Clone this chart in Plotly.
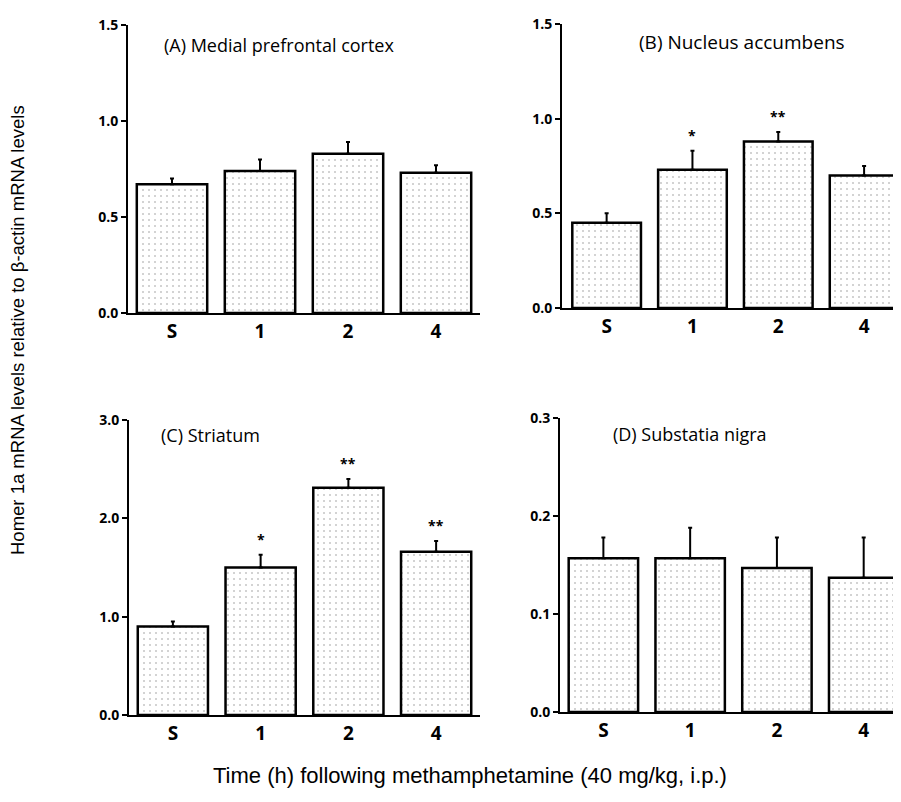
import plotly.graph_objects as go

# The page is shown with the browser's default 8px body margin, so pixel
# positions measured on the screenshot are shifted by OFF.
OFF = 8
SHOT_W, SHOT_H = 901, 802
W, H = SHOT_W - OFF, SHOT_H - OFF

categories = ["S", "1", "2", "4"]

titles = ["(A) Medial prefrontal cortex", "(B) Nucleus accumbens", "(C) Striatum", "(D) Substatia nigra"]

mpfc_mean = [0.67, 0.74, 0.83, 0.73]
mpfc_err = [0.03, 0.06, 0.06, 0.04]
mpfc_sig = ["", "", "", ""]

nac_mean = [0.45, 0.73, 0.88, 0.70]
nac_err = [0.05, 0.10, 0.05, 0.05]
nac_sig = ["", "*", "**", ""]

str_mean = [0.90, 1.50, 2.31, 1.66]
str_err = [0.05, 0.13, 0.09, 0.11]
str_sig = ["", "*", "**", "**"]

sn_mean = [0.157, 0.157, 0.147, 0.137]
sn_err = [0.021, 0.031, 0.031, 0.041]
sn_sig = ["", "", "", ""]

y_ticks_ab = [0.0, 0.5, 1.0, 1.5]
y_ticks_c = [0.0, 1.0, 2.0, 3.0]
y_ticks_d = [0.0, 0.1, 0.2, 0.3]

y_title = "Homer 1a mRNA levels relative to β-actin mRNA levels"
x_title = "Time (h) following methamphetamine (40 mg/kg, i.p.)"


def fx(px):
    return (px - OFF) / W


def fy(py):
    return (H - (py - OFF)) / H


panels = [
    dict(mean=mpfc_mean, err=mpfc_err, sig=mpfc_sig, ticks=y_ticks_ab, title=titles[0],
         px=(128, 480), py=(313, 25), xr=[-0.5, 3.5], tpos=(162, 45), tsize=18),
    dict(mean=nac_mean, err=nac_err, sig=nac_sig, ticks=y_ticks_ab, title=titles[1],
         px=(562, 901), py=(308, 24), xr=[-0.52, 3.43], tpos=(637, 42), tsize=19),
    dict(mean=str_mean, err=str_err, sig=str_sig, ticks=y_ticks_c, title=titles[2],
         px=(129, 480), py=(715, 420), xr=[-0.5, 3.5], tpos=(159, 435), tsize=18),
    dict(mean=sn_mean, err=sn_err, sig=sn_sig, ticks=y_ticks_d, title=titles[3],
         px=(560, 901), py=(712, 418), xr=[-0.5, 3.43], tpos=(611, 434), tsize=18),
]

fig = go.Figure()
label_font = "Open Sans"

for i, p in enumerate(panels):
    n = "" if i == 0 else str(i + 1)
    xa, ya = "x" + n, "y" + n
    fig.add_trace(go.Bar(
        x=categories, y=p["mean"], xaxis=xa, yaxis=ya, width=0.8,
        marker=dict(color="white", line=dict(color="black", width=2.5),
                    pattern=dict(shape=".", fgcolor="#333", bgcolor="white", size=6, solidity=0.06)),
        error_y=dict(type="data", array=p["err"], arrayminus=[0] * 4, symmetric=False,
                     color="black", thickness=2, width=2),
        showlegend=False,
    ))
    ymax = p["ticks"][-1]
    x0, x1 = p["px"]
    yb, yt = p["py"]
    fig.layout["xaxis" + n] = dict(
        type="category", categoryorder="array", categoryarray=categories,
        domain=[fx(x0), min(fx(x1), 1.0)], range=p["xr"], anchor=ya, showline=True,
        linecolor="black", linewidth=2, ticks="", showgrid=False, zeroline=False,
        fixedrange=True, automargin=False,
        tickfont=dict(family=label_font, size=19, color="black", weight="bold"),
    )
    fig.layout["yaxis" + n] = dict(
        domain=[fy(yb), fy(yt)], range=[0, ymax], anchor=xa, showline=True,
        linecolor="black", linewidth=2, ticks="outside", ticklen=5, tickwidth=1.5,
        tickcolor="black", tickvals=p["ticks"], tickformat=".1f", showgrid=False,
        zeroline=False, fixedrange=True, automargin=False,
        tickfont=dict(family=label_font, size=14, color="black", weight="bold"),
    )
    for j, (m, e, s) in enumerate(zip(p["mean"], p["err"], p["sig"])):
        if s:
            # position by category index so "4" is not read as the number 4
            fig.add_annotation(x=j, y=m + e, xref=xa, yref=ya, text=s, showarrow=False,
                               yanchor="bottom", yshift=4,
                               font=dict(family=label_font, size=14, color="black", weight="bold"))
    tx, ty = p["tpos"]
    fig.add_annotation(x=fx(tx), y=fy(ty), xref="paper", yref="paper", text=p["title"],
                       showarrow=False, xanchor="left", yanchor="middle",
                       font=dict(family=label_font, size=p["tsize"], color="black"))

fig.add_annotation(x=fx(17), y=fy(330), xref="paper", yref="paper", text=y_title,
                   textangle=-90, showarrow=False, xanchor="center", yanchor="middle",
                   font=dict(family="Liberation Sans", size=18.5, color="black"))
fig.add_annotation(x=fx(470), y=fy(775), xref="paper", yref="paper", text=x_title,
                   showarrow=False, xanchor="center", yanchor="middle",
                   font=dict(family="Liberation Sans", size=22, color="black"))

fig.update_layout(width=W, height=H, margin=dict(l=0, r=0, t=0, b=0),
                  paper_bgcolor="white", plot_bgcolor="white", bargap=0.2)

fig.write_html("out.html")
